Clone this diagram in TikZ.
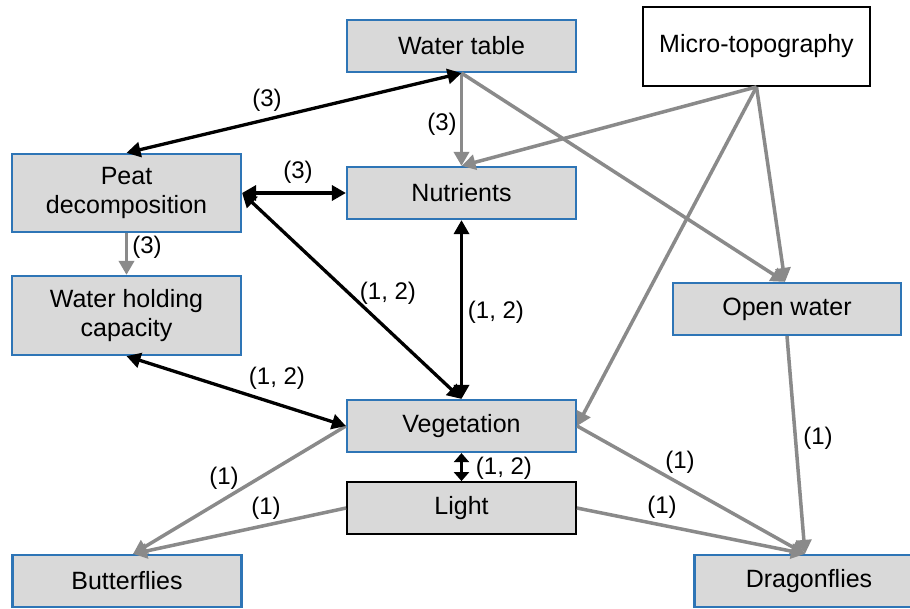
\documentclass[tikz,border=0pt]{standalone}
\usepackage{fontspec}
\setmainfont{Liberation Sans}
\usetikzlibrary{arrows.meta}
\definecolor{boxblue}{RGB}{46,117,182}
\definecolor{boxfill}{RGB}{217,217,217}
\definecolor{linegray}{RGB}{138,138,138}
\tikzset{
  fbox/.style={draw=boxblue, line width=2.2pt, fill=boxfill, minimum width=229pt, minimum height=52pt,
    align=center, inner sep=0pt, font=\fontsize{25}{29.5}\selectfont},
  fboxk/.style={fbox, draw=black, line width=1.8pt},
  lbl/.style={inner sep=0pt, font=\fontsize{24}{28}\selectfont},
  blk/.style={draw=black, line width=3.3pt, {Triangle[length=14pt,width=15pt]}-{Triangle[length=14pt,width=15pt]}},
  blkshort/.style={draw=black, line width=3.3pt, {Triangle[length=9pt,width=15pt]}-{Triangle[length=9pt,width=15pt]}},
  gry/.style={draw=linegray, line width=3.5pt, -{Triangle[length=14pt,width=15pt]}},
}
\begin{document}
\begin{tikzpicture}[x=1pt,y=-1pt]
\useasboundingbox (0,0) rectangle (910,608);
\clip (0,0) rectangle (910,608);
\fill[white] (0,0) rectangle (910,608);
% nodes
\node[fbox] (wt) at (461.5,46) {Water table};
\node[fboxk, fill=white, minimum width=227pt, minimum height=79pt] (micro) at (756.5,46.5) {Micro-topography};
\node[fbox, minimum height=78pt] (peat) at (126.5,193) {Peat\\decomposition};
\node[fbox] (nut) at (461.5,193) {Nutrients};
\node[fbox, minimum height=79pt] (whc) at (126.5,315.5) {Water holding\\capacity};
\node[fbox] (veg) at (461.5,426) {Vegetation};
\node[fboxk] (light) at (461.5,508) {Light};
\node[fbox] (bfly) at (127,581) {Butterflies};
\node[fbox, minimum width=228pt] (ow) at (787,309) {Open water};
\node[fbox] (dfly) at (809,581) {Dragonflies};
% gray connectors
\draw[gry] (wt.south) -- (nut.north);
\draw[gry] (wt.south) -- ([xshift=-2pt]ow.north);
\draw[gry] (micro.south) -- (nut.north);
\draw[gry] (micro.south) -- ([xshift=-2pt]ow.north);
\draw[gry] (micro.south) -- (veg.east);
\draw[gry] (peat.south) -- (whc.north);
\draw[gry] (veg.west) -- ([xshift=6pt]bfly.north);
\draw[gry] (light.west) -- ([xshift=6pt]bfly.north);
\draw[gry] (veg.east) -- ([xshift=-4pt]dfly.north);
\draw[gry] (light.east) -- ([xshift=-4pt]dfly.north);
\draw[gry] (ow.south) -- ([xshift=-4pt]dfly.north);
% black connectors
\draw[blk] (wt.south) -- (peat.north);
\draw[blk] (peat.east) -- (nut.west);
\draw[blk] (peat.east) -- (veg.north);
\draw[blk] (nut.south) -- (veg.north);
\draw[blk] (whc.south) -- (veg.west);
\draw[blkshort] (veg.south) -- (light.north);
% labels
\node[lbl] (l1) at (267,100) {(3)};
\node[lbl] (l2) at (442,124) {(3)};
\node[lbl] (l3) at (298,172) {(3)};
\node[lbl] (l4) at (147,247) {(3)};
\node[lbl] (l5) at (388,293) {(1, 2)};
\node[lbl] (l6) at (496,312) {(1, 2)};
\node[lbl] (l7) at (277,378) {(1, 2)};
\node[lbl] (l8) at (504,468) {(1, 2)};
\node[lbl] (l9) at (224,478) {(1)};
\node[lbl] (l10) at (266,508) {(1)};
\node[lbl] (l11) at (680,462) {(1)};
\node[lbl] (l12) at (662,507) {(1)};
\node[lbl] (l13) at (818,438) {(1)};
\end{tikzpicture}
\end{document}
